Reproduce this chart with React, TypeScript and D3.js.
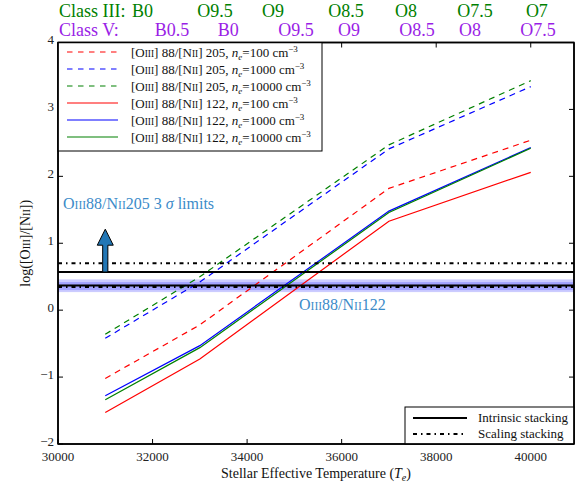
import React from 'react';
import * as d3 from 'd3';

// ---------- data ----------
const temps = [31000, 33000, 37000, 40000];
const r205_ne100 = [-1.02, -0.22, 1.82, 2.54];
const r205_ne1000 = [-0.42, 0.42, 2.41, 3.34];
const r205_ne10000 = [-0.36, 0.5, 2.47, 3.43];
const r122_ne100 = [-1.53, -0.73, 1.33, 2.06];
const r122_ne1000 = [-1.28, -0.53, 1.48, 2.43];
const r122_ne10000 = [-1.34, -0.56, 1.46, 2.42];

const seriesLines = ['205', '205', '205', '122', '122', '122'];
const seriesDensities = ['100', '1000', '10000', '100', '1000', '10000'];
const seriesValues = [r205_ne100, r205_ne1000, r205_ne10000, r122_ne100, r122_ne1000, r122_ne10000];
const seriesColors = ['red', 'blue', 'green', 'red', 'blue', 'green'];
const seriesDashed = [true, true, true, false, false, false];

const xTicks = [30000, 32000, 34000, 36000, 38000, 40000];
const yTicks = [-2, -1, 0, 1, 2, 3, 4];

// 205 3-sigma limits and 122 measured ratio
const limit205Intrinsic = 0.57;
const limit205Scaling = 0.7;
const ratio122Intrinsic = 0.37;
const ratio122Scaling = 0.345;
const band122Intrinsic = [0.3, 0.46];
const band122Scaling = [0.27, 0.42];
const arrowTemp = 31000;
const arrowTop = 1.21;

// spectral type labels (position in temperature)
const classIIILabels = ['B0', 'O9.5', 'O9', 'O8.5', 'O8', 'O7.5', 'O7'];
const classIIITemps = [31790, 33320, 34550, 36090, 37360, 38820, 40130];
const classVLabels = ['B0.5', 'B0', 'O9.5', 'O9', 'O8.5', 'O8', 'O7.5'];
const classVTemps = [32410, 33600, 35035, 36155, 37595, 38715, 40155];

// ---------- layout ----------
const W = 582;
const H = 485;
const L = 58;
const R = 574;
const T = 42.5;
const B = 444;
const FONT = "'Liberation Serif', 'Times New Roman', serif";

const x = d3.scaleLinear().domain([30000, 40915]).range([L, R]);
const y = d3.scaleLinear().domain([-2, 4]).range([B, T]);

const fmt = (v: number) => (v < 0 ? '\u2212' + Math.abs(v) : String(v));

const SC = ({ t }: { t: string }) => <tspan fontSize="0.72em">{t}</tspan>;

export default function App() {
  const line = d3
    .line<number>()
    .x((_, i) => x(temps[i]))
    .y((d) => y(d));

  const ax = x(arrowTemp);
  const ab = y(limit205Intrinsic);
  const at = y(arrowTop);
  const shaftW = 2.6;
  const headW = 8;
  const headL = 16;
  const arrowPts = [
    [ax - shaftW, ab],
    [ax - shaftW, at + headL],
    [ax - headW, at + headL],
    [ax, at],
    [ax + headW, at + headL],
    [ax + shaftW, at + headL],
    [ax + shaftW, ab],
  ]
    .map((p) => p.join(','))
    .join(' ');

  const dashDot = '4,4,1.5,4';

  return (
    <svg
      width={W}
      height={H}
      style={{ position: 'absolute', left: 0, top: 0, background: 'white', fontFamily: FONT }}
    >
      <rect x={0} y={0} width={W} height={H} fill="white" />
      <defs>
        <clipPath id="plotclip">
          <rect x={L} y={T} width={R - L} height={B - T} />
        </clipPath>
      </defs>

      <g clipPath="url(#plotclip)">
        {/* 122 bands */}
        <rect
          x={L}
          width={R - L}
          y={y(band122Intrinsic[1])}
          height={y(band122Intrinsic[0]) - y(band122Intrinsic[1])}
          fill="rgba(0,0,255,0.2)"
        />
        <rect
          x={L}
          width={R - L}
          y={y(band122Scaling[1])}
          height={y(band122Scaling[0]) - y(band122Scaling[1])}
          fill="rgba(0,0,255,0.2)"
        />

        {/* model lines */}
        {seriesValues.map((vals, i) => (
          <path
            key={i}
            d={line(vals) || ''}
            fill="none"
            stroke={seriesColors[i]}
            strokeWidth={1.2}
            strokeDasharray={seriesDashed[i] ? '6,5' : undefined}
          />
        ))}

        {/* horizontal reference lines */}
        <line x1={L} x2={R} y1={y(limit205Intrinsic)} y2={y(limit205Intrinsic)} stroke="black" strokeWidth={2} />
        <line x1={L} x2={R} y1={y(limit205Scaling)} y2={y(limit205Scaling)} stroke="black" strokeWidth={2} strokeDasharray={dashDot} />
        <line x1={L} x2={R} y1={y(ratio122Intrinsic)} y2={y(ratio122Intrinsic)} stroke="black" strokeWidth={2} />
        <line x1={L} x2={R} y1={y(ratio122Scaling)} y2={y(ratio122Scaling)} stroke="black" strokeWidth={2} strokeDasharray={dashDot} />

        {/* arrow */}
        <polygon points={arrowPts} fill="#2277b6" stroke="black" strokeWidth={1} strokeLinejoin="miter" />
      </g>

      {/* annotations */}
      <text x={63} y={209} fontSize={16} fill="#3b8bc9">
        O<SC t="III" />88/N<SC t="II" />205 3 <tspan fontStyle="italic">σ</tspan> limits
      </text>
      <text x={299} y={310} fontSize={16} fill="#3b8bc9">
        O<SC t="III" />88/N<SC t="II" />122
      </text>

      {/* frame and ticks */}
      <rect x={L} y={T} width={R - L} height={B - T} fill="none" stroke="black" strokeWidth={1.5} />
      {xTicks.map((t) => (
        <g key={'x' + t}>
          <line x1={x(t)} x2={x(t)} y1={B} y2={B - 5} stroke="black" strokeWidth={1} />
          <line x1={x(t)} x2={x(t)} y1={T} y2={T + 5} stroke="black" strokeWidth={1} />
          <text x={x(t)} y={460.5} fontSize={13} textAnchor="middle" fill="#222">
            {t}
          </text>
        </g>
      ))}
      {yTicks.map((t) => (
        <g key={'y' + t}>
          <line x1={L} x2={L + 5} y1={y(t)} y2={y(t)} stroke="black" strokeWidth={1} />
          <line x1={R} x2={R - 5} y1={y(t)} y2={y(t)} stroke="black" strokeWidth={1} />
          <text x={54} y={y(t) + 1.5} fontSize={13} textAnchor="end" fill="#222">
            {fmt(t)}
          </text>
        </g>
      ))}

      {/* axis labels */}
      <text x={(L + R) / 2} y={478} fontSize={14} textAnchor="middle" fill="#111">
        Stellar Effective Temperature (<tspan fontStyle="italic">T</tspan>
        <tspan fontStyle="italic" fontSize={10} dy={3}>
          e
        </tspan>
        <tspan dy={-3}>)</tspan>
      </text>
      <text transform={`translate(30,${(T + B) / 2}) rotate(-90)`} fontSize={14} textAnchor="middle" fill="#111">
        log([O<SC t="III" />]/[N<SC t="II" />])
      </text>

      {/* spectral classes */}
      <text x={59} y={17} fontSize={18} fill="green">
        Class III:
      </text>
      {classIIILabels.map((lab, i) => (
        <text key={'c3' + i} x={x(classIIITemps[i])} y={17} fontSize={18} fill="green" textAnchor="middle">
          {lab}
        </text>
      ))}
      <text x={59} y={36} fontSize={18} fill="#9a1ee6">
        Class V:
      </text>
      {classVLabels.map((lab, i) => (
        <text key={'c5' + i} x={x(classVTemps[i])} y={36} fontSize={18} fill="#9a1ee6" textAnchor="middle">
          {lab}
        </text>
      ))}

      {/* upper legend */}
      <rect x={L} y={T} width={322 - L} height={151 - T} fill="white" stroke="black" strokeWidth={1} />
      {seriesValues.map((_, i) => {
        const yy = 52 + i * 17;
        return (
          <g key={'lg' + i}>
            <line
              x1={67}
              x2={118}
              y1={yy}
              y2={yy}
              stroke={seriesColors[i]}
              strokeWidth={1.2}
              strokeDasharray={seriesDashed[i] ? '5.5,5.5' : undefined}
            />
            <text x={131} y={yy + 4.5} fontSize={13} fill="#111">
              [O<SC t="III" />] 88/[N<SC t="II" />] {seriesLines[i]}, <tspan fontStyle="italic">n</tspan>
              <tspan fontStyle="italic" fontSize={9} dy={3}>
                e
              </tspan>
              <tspan dy={-3}>={seriesDensities[i]} cm</tspan>
              <tspan fontSize={9} dy={-5}>
                {'\u22123'}
              </tspan>
            </text>
          </g>
        );
      })}

      {/* lower legend */}
      <rect x={405} y={407} width={R - 405} height={B - 407} fill="white" stroke="black" strokeWidth={1} />
      <line x1={413} x2={467} y1={418} y2={418} stroke="black" strokeWidth={2} />
      <text x={478} y={422} fontSize={13} fill="#111">
        Intrinsic stacking
      </text>
      <line x1={413} x2={467} y1={434} y2={434} stroke="black" strokeWidth={2} strokeDasharray={dashDot} />
      <text x={478} y={438} fontSize={13} fill="#111">
        Scaling stacking
      </text>
      {/* redraw frame edges over legends */}
      <line x1={R} x2={R} y1={T} y2={B} stroke="black" strokeWidth={1.5} />
      <line x1={L} x2={R} y1={B} y2={B} stroke="black" strokeWidth={1.5} />
      <line x1={L} x2={L} y1={T} y2={B} stroke="black" strokeWidth={1.5} />
      <line x1={L} x2={R} y1={T} y2={T} stroke="black" strokeWidth={1.5} />
    </svg>
  );
}
